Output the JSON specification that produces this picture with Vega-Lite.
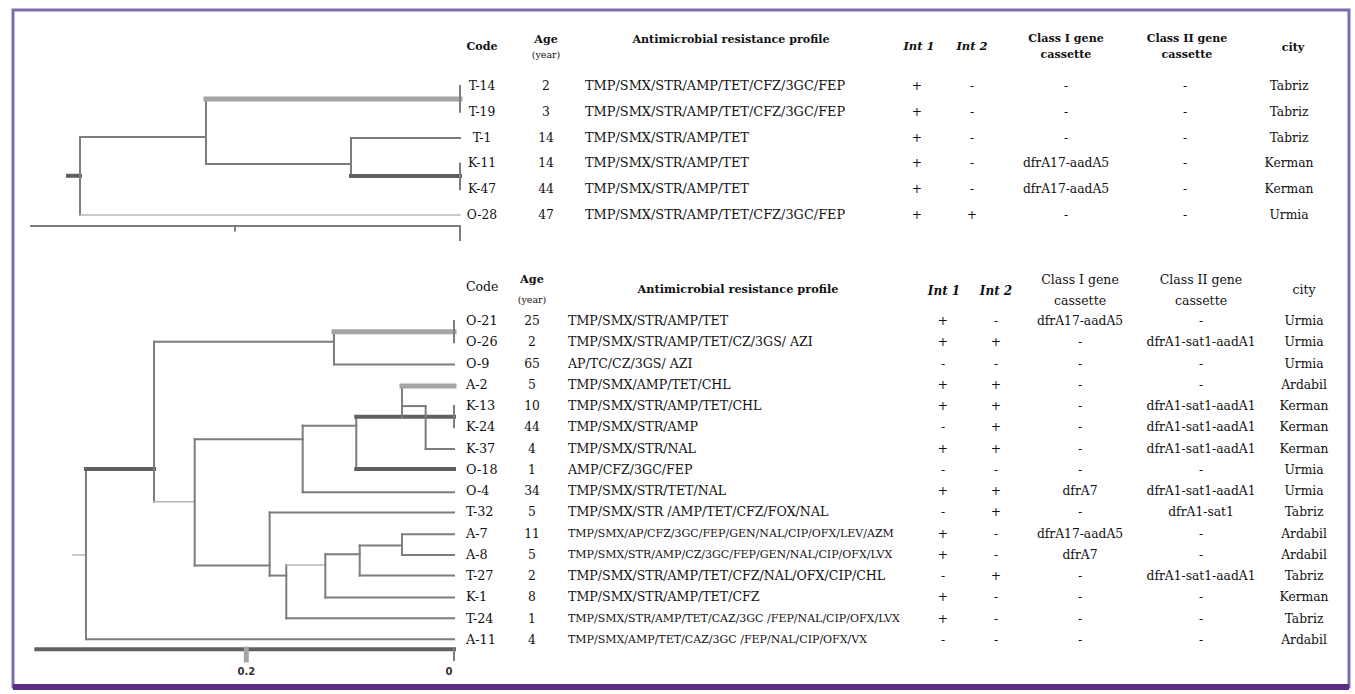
{
  "$schema": "https://vega.github.io/schema/vega-lite/v6.json",
  "width": 1355,
  "height": 694,
  "autosize": {"type": "fit", "contains": "padding"},
  "padding": {"left": 10, "top": 10, "right": 3, "bottom": 4},
  "background": "white",
  "config": {"view": {"stroke": "#7f6db0", "strokeWidth": 3}, "text": {"font": "DejaVu Serif"}},
  "datasets": {
    "cols": [
      {"col": "code", "slot": 1}, {"col": "age", "slot": 2}, {"col": "int1", "slot": 4},
      {"col": "int2", "slot": 5}, {"col": "c1", "slot": 6}, {"col": "c2", "slot": 7}, {"col": "city", "slot": 8}
    ],
    "top": [
      {"r": 1, "code": "T-14", "age": 2, "profile": "TMP/SMX/STR/AMP/TET/CFZ/3GC/FEP", "int1": "+", "int2": "-", "c1": "-", "c2": "-", "city": "Tabriz"},
      {"r": 2, "code": "T-19", "age": 3, "profile": "TMP/SMX/STR/AMP/TET/CFZ/3GC/FEP", "int1": "+", "int2": "-", "c1": "-", "c2": "-", "city": "Tabriz"},
      {"r": 3, "code": "T-1", "age": 14, "profile": "TMP/SMX/STR/AMP/TET", "int1": "+", "int2": "-", "c1": "-", "c2": "-", "city": "Tabriz"},
      {"r": 4, "code": "K-11", "age": 14, "profile": "TMP/SMX/STR/AMP/TET", "int1": "+", "int2": "-", "c1": "dfrA17-aadA5", "c2": "-", "city": "Kerman"},
      {"r": 5, "code": "K-47", "age": 44, "profile": "TMP/SMX/STR/AMP/TET", "int1": "+", "int2": "-", "c1": "dfrA17-aadA5", "c2": "-", "city": "Kerman"},
      {"r": 6, "code": "O-28", "age": 47, "profile": "TMP/SMX/STR/AMP/TET/CFZ/3GC/FEP", "int1": "+", "int2": "+", "c1": "-", "c2": "-", "city": "Urmia"}
    ],
    "bottom": [
      {"r": 1, "code": "O-21", "age": 25, "profile": "TMP/SMX/STR/AMP/TET", "int1": "+", "int2": "-", "c1": "dfrA17-aadA5", "c2": "-", "city": "Urmia"},
      {"r": 2, "code": "O-26", "age": 2, "profile": "TMP/SMX/STR/AMP/TET/CZ/3GS/ AZI", "int1": "+", "int2": "+", "c1": "-", "c2": "dfrA1-sat1-aadA1", "city": "Urmia"},
      {"r": 3, "code": "O-9", "age": 65, "profile": "AP/TC/CZ/3GS/ AZI", "int1": "-", "int2": "-", "c1": "-", "c2": "-", "city": "Urmia"},
      {"r": 4, "code": "A-2", "age": 5, "profile": "TMP/SMX/AMP/TET/CHL", "int1": "+", "int2": "+", "c1": "-", "c2": "-", "city": "Ardabil"},
      {"r": 5, "code": "K-13", "age": 10, "profile": "TMP/SMX/STR/AMP/TET/CHL", "int1": "+", "int2": "+", "c1": "-", "c2": "dfrA1-sat1-aadA1", "city": "Kerman"},
      {"r": 6, "code": "K-24", "age": 44, "profile": "TMP/SMX/STR/AMP", "int1": "-", "int2": "+", "c1": "-", "c2": "dfrA1-sat1-aadA1", "city": "Kerman"},
      {"r": 7, "code": "K-37", "age": 4, "profile": "TMP/SMX/STR/NAL", "int1": "+", "int2": "+", "c1": "-", "c2": "dfrA1-sat1-aadA1", "city": "Kerman"},
      {"r": 8, "code": "O-18", "age": 1, "profile": "AMP/CFZ/3GC/FEP", "int1": "-", "int2": "-", "c1": "-", "c2": "-", "city": "Urmia"},
      {"r": 9, "code": "O-4", "age": 34, "profile": "TMP/SMX/STR/TET/NAL", "int1": "+", "int2": "+", "c1": "dfrA7", "c2": "dfrA1-sat1-aadA1", "city": "Urmia"},
      {"r": 10, "code": "T-32", "age": 5, "profile": "TMP/SMX/STR /AMP/TET/CFZ/FOX/NAL", "int1": "-", "int2": "+", "c1": "-", "c2": "dfrA1-sat1", "city": "Tabriz"},
      {"r": 11, "code": "A-7", "age": 11, "profile": "TMP/SMX/AP/CFZ/3GC/FEP/GEN/NAL/CIP/OFX/LEV/AZM", "int1": "+", "int2": "-", "c1": "dfrA17-aadA5", "c2": "-", "city": "Ardabil"},
      {"r": 12, "code": "A-8", "age": 5, "profile": "TMP/SMX/STR/AMP/CZ/3GC/FEP/GEN/NAL/CIP/OFX/LVX", "int1": "+", "int2": "-", "c1": "dfrA7", "c2": "-", "city": "Ardabil"},
      {"r": 13, "code": "T-27", "age": 2, "profile": "TMP/SMX/STR/AMP/TET/CFZ/NAL/OFX/CIP/CHL", "int1": "-", "int2": "+", "c1": "-", "c2": "dfrA1-sat1-aadA1", "city": "Tabriz"},
      {"r": 14, "code": "K-1", "age": 8, "profile": "TMP/SMX/STR/AMP/TET/CFZ", "int1": "+", "int2": "-", "c1": "-", "c2": "-", "city": "Kerman"},
      {"r": 15, "code": "T-24", "age": 1, "profile": "TMP/SMX/STR/AMP/TET/CAZ/3GC /FEP/NAL/CIP/OFX/LVX", "int1": "+", "int2": "-", "c1": "-", "c2": "-", "city": "Tabriz"},
      {"r": 16, "code": "A-11", "age": 4, "profile": "TMP/SMX/AMP/TET/CAZ/3GC /FEP/NAL/CIP/OFX/VX", "int1": "-", "int2": "-", "c1": "-", "c2": "-", "city": "Ardabil"}
    ],
    "topTree": [
      {"d": 0.3484, "d2": 0.3378, "r": 4.48, "r2": 4.48, "kind": "heavy"},
      {"d": 0.3378, "d2": 0.3378, "r": 2.98, "r2": 6.0, "kind": "branch"},
      {"d": 0.3378, "d2": 0.2258, "r": 2.98, "r2": 2.98, "kind": "branch"},
      {"d": 0.3378, "d2": 0, "r": 6.0, "r2": 6.0, "kind": "light"},
      {"d": 0.2258, "d2": 0.2258, "r": 1.5, "r2": 4.02, "kind": "branch"},
      {"d": 0.2258, "d2": 0, "r": 1.5, "r2": 1.5, "kind": "tied"},
      {"d": 0, "d2": 0, "r": 1.0, "r2": 2.0, "kind": "branch"},
      {"d": 0.2258, "d2": 0.0969, "r": 4.02, "r2": 4.02, "kind": "branch"},
      {"d": 0.0969, "d2": 0.0969, "r": 3.02, "r2": 4.49, "kind": "branch"},
      {"d": 0.0969, "d2": 0, "r": 3.02, "r2": 3.02, "kind": "branch"},
      {"d": 0.0969, "d2": 0, "r": 4.49, "r2": 4.49, "kind": "heavy"},
      {"d": 0, "d2": 0, "r": 4.0, "r2": 5.0, "kind": "branch"},
      {"d": 0.3813, "d2": 0, "r": 6.43, "r2": 6.43, "kind": "branch"},
      {"d": 0.2, "d2": 0.2, "r": 6.43, "r2": 6.6, "kind": "branch"},
      {"d": 0, "d2": 0, "r": 6.43, "r2": 6.97, "kind": "branch"}
    ],
    "bottomTree": [
      {"d": 0.3669, "d2": 0.3544, "r": 12.0, "r2": 12.0, "kind": "light"},
      {"d": 0.3544, "d2": 0.3544, "r": 7.96, "r2": 15.96, "kind": "branch"},
      {"d": 0.3544, "d2": 0, "r": 15.96, "r2": 15.96, "kind": "branch"},
      {"d": 0.3544, "d2": 0.2889, "r": 7.96, "r2": 7.96, "kind": "heavy"},
      {"d": 0.2889, "d2": 0.2889, "r": 1.97, "r2": 9.5, "kind": "branch"},
      {"d": 0.2889, "d2": 0.1156, "r": 1.97, "r2": 1.97, "kind": "branch"},
      {"d": 0.1156, "d2": 0.1156, "r": 1.5, "r2": 3.04, "kind": "branch"},
      {"d": 0.1156, "d2": 0, "r": 1.5, "r2": 1.5, "kind": "tied"},
      {"d": 0, "d2": 0, "r": 1.0, "r2": 2.0, "kind": "branch"},
      {"d": 0.1156, "d2": 0, "r": 3.04, "r2": 3.04, "kind": "branch"},
      {"d": 0.2889, "d2": 0.2497, "r": 9.5, "r2": 9.5, "kind": "light"},
      {"d": 0.2497, "d2": 0.2497, "r": 6.56, "r2": 12.5, "kind": "branch"},
      {"d": 0.2497, "d2": 0.1457, "r": 6.56, "r2": 6.56, "kind": "branch"},
      {"d": 0.1457, "d2": 0.1457, "r": 5.92, "r2": 9.05, "kind": "branch"},
      {"d": 0.1457, "d2": 0.0941, "r": 5.92, "r2": 5.92, "kind": "branch"},
      {"d": 0.0941, "d2": 0.0941, "r": 5.5, "r2": 7.96, "kind": "branch"},
      {"d": 0.0941, "d2": 0, "r": 5.5, "r2": 5.5, "kind": "heavy"},
      {"d": 0, "d2": 0, "r": 5.0, "r2": 6.0, "kind": "branch"},
      {"d": 0.0941, "d2": 0, "r": 7.96, "r2": 7.96, "kind": "heavy"},
      {"d": 0.0501, "d2": 0.0501, "r": 4.06, "r2": 5.5, "kind": "branch"},
      {"d": 0.0501, "d2": 0, "r": 4.06, "r2": 4.06, "kind": "tied"},
      {"d": 0.0501, "d2": 0.0273, "r": 5.0, "r2": 5.0, "kind": "branch"},
      {"d": 0.0273, "d2": 0.0273, "r": 5.0, "r2": 7.02, "kind": "branch"},
      {"d": 0.0273, "d2": 0, "r": 7.02, "r2": 7.02, "kind": "branch"},
      {"d": 0.1457, "d2": 0, "r": 9.05, "r2": 9.05, "kind": "branch"},
      {"d": 0.2497, "d2": 0.1775, "r": 12.5, "r2": 12.5, "kind": "branch"},
      {"d": 0.1775, "d2": 0.1775, "r": 10.0, "r2": 12.97, "kind": "branch"},
      {"d": 0.1775, "d2": 0, "r": 10.0, "r2": 10.0, "kind": "branch"},
      {"d": 0.1775, "d2": 0.1615, "r": 12.97, "r2": 12.97, "kind": "branch"},
      {"d": 0.1615, "d2": 0.1615, "r": 12.47, "r2": 14.98, "kind": "branch"},
      {"d": 0.1615, "d2": 0.1239, "r": 12.47, "r2": 12.47, "kind": "light"},
      {"d": 0.1615, "d2": 0, "r": 14.98, "r2": 14.98, "kind": "branch"},
      {"d": 0.1239, "d2": 0.1239, "r": 11.97, "r2": 14.0, "kind": "branch"},
      {"d": 0.1239, "d2": 0.0908, "r": 11.97, "r2": 11.97, "kind": "branch"},
      {"d": 0.1239, "d2": 0, "r": 14.0, "r2": 14.0, "kind": "branch"},
      {"d": 0.0908, "d2": 0.0908, "r": 11.56, "r2": 12.97, "kind": "branch"},
      {"d": 0.0908, "d2": 0.0501, "r": 11.56, "r2": 11.56, "kind": "branch"},
      {"d": 0.0908, "d2": 0, "r": 12.97, "r2": 12.97, "kind": "branch"},
      {"d": 0.0501, "d2": 0.0501, "r": 11.03, "r2": 12.0, "kind": "branch"},
      {"d": 0.0501, "d2": 0, "r": 11.03, "r2": 11.03, "kind": "branch"},
      {"d": 0.0501, "d2": 0, "r": 12.0, "r2": 12.0, "kind": "branch"},
      {"d": 0.4022, "d2": 0, "r": 16.43, "r2": 16.43, "kind": "heavy"},
      {"d": 0.2, "d2": 0.2, "r": 16.43, "r2": 16.94, "kind": "tied"},
      {"d": 0, "d2": 0, "r": 16.43, "r2": 16.94, "kind": "branch"}
    ]
  },
  "layer": [
    {
      "data": {"name": "topTree"},
      "mark": {"type": "rule", "strokeCap": "square"},
      "encoding": {
        "x": {"field": "d", "type": "quantitative", "scale": {"domain": [0, 0.2], "range": [447, 222], "zero": false, "nice": false}, "axis": null},
        "x2": {"field": "d2"},
        "y": {"field": "r", "type": "quantitative", "scale": {"domain": [1, 6], "range": [76, 205], "zero": false, "nice": false}, "axis": null},
        "y2": {"field": "r2"},
        "color": {"field": "kind", "type": "nominal", "scale": {"domain": ["branch", "tied", "heavy", "light"], "range": ["#7d7d7d", "#a5a5a5", "#606060", "#b8b8b8"]}, "legend": null},
        "strokeWidth": {"field": "kind", "type": "nominal", "scale": {"type": "ordinal", "domain": ["branch", "tied", "heavy", "light"], "range": [2, 5, 4, 1.5]}, "legend": null}
      }
    },
    {
      "data": {"name": "bottomTree"},
      "mark": {"type": "rule", "strokeCap": "square"},
      "encoding": {
        "x": {"field": "d", "type": "quantitative", "scale": {"domain": [0, 0.2], "range": [441, 233.3], "zero": false, "nice": false}, "axis": null},
        "x2": {"field": "d2"},
        "y": {"field": "r", "type": "quantitative", "scale": {"domain": [1, 16], "range": [311, 630], "zero": false, "nice": false}, "axis": null},
        "y2": {"field": "r2"},
        "color": {"field": "kind", "type": "nominal", "scale": {"domain": ["branch", "tied", "heavy", "light"], "range": ["#7d7d7d", "#a5a5a5", "#606060", "#b8b8b8"]}, "legend": null},
        "strokeWidth": {"field": "kind", "type": "nominal", "scale": {"type": "ordinal", "domain": ["branch", "tied", "heavy", "light"], "range": [2, 5, 4, 1.5]}, "legend": null}
      }
    },
    {
      "data": {"values": [{"label": "0.2", "d": 0.2, "r": 17.5}, {"label": "0", "d": 0.0048, "r": 17.5}]},
      "mark": {"type": "text", "font": "DejaVu Sans", "fontSize": 10, "fontWeight": "bold", "align": "center", "baseline": "middle", "color": "#333"},
      "encoding": {
        "x": {"field": "d", "type": "quantitative", "scale": {"domain": [0, 0.2], "range": [441, 233.3], "zero": false, "nice": false}, "axis": null},
        "y": {"field": "r", "type": "quantitative", "scale": {"domain": [1, 16], "range": [311, 630], "zero": false, "nice": false}, "axis": null},
        "text": {"field": "label"}
      }
    },
    {
      "data": {"name": "top"},
      "transform": [
        {"fold": ["code", "age", "int1", "int2", "c1", "c2", "city"], "as": ["col", "val"]},
        {"lookup": "col", "from": {"data": {"name": "cols"}, "key": "col", "fields": ["slot"]}}
      ],
      "mark": {"type": "text", "fontSize": 12.3, "align": "center", "baseline": "middle", "color": "#111"},
      "encoding": {
        "x": {"field": "slot", "type": "quantitative", "scale": {"domain": [1, 2, 3, 4, 5, 6, 7, 8], "range": [469, 533, 718, 904, 959, 1053, 1172, 1276], "zero": false, "nice": false}, "axis": null},
        "y": {"field": "r", "type": "quantitative", "scale": {"domain": [1, 6], "range": [76, 205], "zero": false, "nice": false}, "axis": null},
        "text": {"field": "val"}
      }
    },
    {
      "data": {"name": "top"},
      "mark": {"type": "text", "fontSize": 12.9, "align": "left", "baseline": "middle", "dx": -146, "color": "#111"},
      "encoding": {
        "x": {"datum": 3, "type": "quantitative", "scale": {"domain": [1, 2, 3, 4, 5, 6, 7, 8], "range": [469, 533, 718, 904, 959, 1053, 1172, 1276], "zero": false, "nice": false}, "axis": null},
        "y": {"field": "r", "type": "quantitative", "scale": {"domain": [1, 6], "range": [76, 205], "zero": false, "nice": false}, "axis": null},
        "text": {"field": "profile"}
      }
    },
    {
      "data": {"values": [
        {"label": "Code", "col": 1, "r": -0.52},
        {"label": "Age", "col": 2, "r": -0.78},
        {"label": "Antimicrobial resistance profile", "col": 3, "r": -0.78},
        {"label": "Class I gene", "col": 6, "r": -0.81},
        {"label": "cassette", "col": 6, "r": -0.2},
        {"label": "Class II gene", "col": 7, "r": -0.81},
        {"label": "cassette", "col": 7, "r": -0.2},
        {"label": "city", "col": 8, "r": -0.47}
      ]},
      "mark": {"type": "text", "fontSize": 11.1, "fontWeight": "bold", "align": "center", "baseline": "middle", "color": "#111"},
      "encoding": {
        "x": {"field": "col", "type": "quantitative", "scale": {"domain": [1, 2, 3, 4, 5, 6, 7, 8], "range": [469, 533, 718, 906, 959, 1053, 1174, 1280], "zero": false, "nice": false}, "axis": null},
        "y": {"field": "r", "type": "quantitative", "scale": {"domain": [1, 6], "range": [76, 205], "zero": false, "nice": false}, "axis": null},
        "text": {"field": "label"}
      }
    },
    {
      "data": {"values": [{"label": "(year)", "col": 2, "r": -0.2}]},
      "mark": {"type": "text", "fontSize": 9.5, "align": "center", "baseline": "middle", "color": "#111"},
      "encoding": {
        "x": {"field": "col", "type": "quantitative", "scale": {"domain": [1, 2, 3, 4, 5, 6, 7, 8], "range": [469, 533, 718, 906, 959, 1053, 1174, 1280], "zero": false, "nice": false}, "axis": null},
        "y": {"field": "r", "type": "quantitative", "scale": {"domain": [1, 6], "range": [76, 205], "zero": false, "nice": false}, "axis": null},
        "text": {"field": "label"}
      }
    },
    {
      "data": {"values": [{"label": "Int 1", "col": 4, "r": -0.5}, {"label": "Int 2", "col": 5, "r": -0.5}]},
      "mark": {"type": "text", "fontSize": 11.5, "fontWeight": "bold", "fontStyle": "italic", "align": "center", "baseline": "middle", "color": "#111"},
      "encoding": {
        "x": {"field": "col", "type": "quantitative", "scale": {"domain": [1, 2, 3, 4, 5, 6, 7, 8], "range": [469, 533, 718, 906, 959, 1053, 1174, 1280], "zero": false, "nice": false}, "axis": null},
        "y": {"field": "r", "type": "quantitative", "scale": {"domain": [1, 6], "range": [76, 205], "zero": false, "nice": false}, "axis": null},
        "text": {"field": "label"}
      }
    },
    {
      "data": {"name": "bottom"},
      "transform": [
        {"fold": ["age", "int1", "int2", "c1", "c2", "city"], "as": ["col", "val"]},
        {"lookup": "col", "from": {"data": {"name": "cols"}, "key": "col", "fields": ["slot"]}}
      ],
      "mark": {"type": "text", "fontSize": 12.3, "align": "center", "baseline": "middle", "color": "#111"},
      "encoding": {
        "x": {"field": "slot", "type": "quantitative", "scale": {"domain": [1, 2, 3, 4, 5, 6, 7, 8], "range": [453, 519, 725, 930, 983, 1067, 1188, 1291], "zero": false, "nice": false}, "axis": null},
        "y": {"field": "r", "type": "quantitative", "scale": {"domain": [1, 16], "range": [311, 630], "zero": false, "nice": false}, "axis": null},
        "text": {"field": "val"}
      }
    },
    {
      "data": {"name": "bottom"},
      "mark": {"type": "text", "fontSize": 12.8, "align": "left", "baseline": "middle", "color": "#111"},
      "encoding": {
        "x": {"datum": 1, "type": "quantitative", "scale": {"domain": [1, 2, 3, 4, 5, 6, 7, 8], "range": [453, 519, 725, 930, 983, 1067, 1188, 1291], "zero": false, "nice": false}, "axis": null},
        "y": {"field": "r", "type": "quantitative", "scale": {"domain": [1, 16], "range": [311, 630], "zero": false, "nice": false}, "axis": null},
        "text": {"field": "code"}
      }
    },
    {
      "data": {"name": "bottom"},
      "transform": [{"filter": "length(datum.profile) <= 42"}],
      "mark": {"type": "text", "fontSize": 12.6, "align": "left", "baseline": "middle", "dx": -170, "color": "#111"},
      "encoding": {
        "x": {"datum": 3, "type": "quantitative", "scale": {"domain": [1, 2, 3, 4, 5, 6, 7, 8], "range": [453, 519, 725, 930, 983, 1067, 1188, 1291], "zero": false, "nice": false}, "axis": null},
        "y": {"field": "r", "type": "quantitative", "scale": {"domain": [1, 16], "range": [311, 630], "zero": false, "nice": false}, "axis": null},
        "text": {"field": "profile"}
      }
    },
    {
      "data": {"name": "bottom"},
      "transform": [{"filter": "length(datum.profile) > 42"}],
      "mark": {"type": "text", "fontSize": 11, "align": "left", "baseline": "middle", "dx": -170, "color": "#111"},
      "encoding": {
        "x": {"datum": 3, "type": "quantitative", "scale": {"domain": [1, 2, 3, 4, 5, 6, 7, 8], "range": [453, 519, 725, 930, 983, 1067, 1188, 1291], "zero": false, "nice": false}, "axis": null},
        "y": {"field": "r", "type": "quantitative", "scale": {"domain": [1, 16], "range": [311, 630], "zero": false, "nice": false}, "axis": null},
        "text": {"field": "profile"}
      }
    },
    {
      "data": {"values": [{"label": "Code", "col": 1, "r": -0.61}]},
      "mark": {"type": "text", "fontSize": 12.5, "align": "left", "baseline": "middle", "color": "#111"},
      "encoding": {
        "x": {"field": "col", "type": "quantitative", "scale": {"domain": [1, 2, 3, 4, 5, 6, 7, 8], "range": [453, 519, 725, 930, 983, 1067, 1188, 1291], "zero": false, "nice": false}, "axis": null},
        "y": {"field": "r", "type": "quantitative", "scale": {"domain": [1, 16], "range": [311, 630], "zero": false, "nice": false}, "axis": null},
        "text": {"field": "label"}
      }
    },
    {
      "data": {"values": [
        {"label": "Age", "col": 2, "r": -0.93},
        {"label": "Antimicrobial resistance profile", "col": 3, "r": -0.46}
      ]},
      "mark": {"type": "text", "fontSize": 11.3, "fontWeight": "bold", "align": "center", "baseline": "middle", "color": "#111"},
      "encoding": {
        "x": {"field": "col", "type": "quantitative", "scale": {"domain": [1, 2, 3, 4, 5, 6, 7, 8], "range": [453, 519, 725, 930, 983, 1067, 1188, 1291], "zero": false, "nice": false}, "axis": null},
        "y": {"field": "r", "type": "quantitative", "scale": {"domain": [1, 16], "range": [311, 630], "zero": false, "nice": false}, "axis": null},
        "text": {"field": "label"}
      }
    },
    {
      "data": {"values": [
        {"label": "Class I gene", "col": 6, "r": -0.93},
        {"label": "cassette", "col": 6, "r": 0.05},
        {"label": "Class II gene", "col": 7, "r": -0.93},
        {"label": "cassette", "col": 7, "r": 0.05},
        {"label": "city", "col": 8, "r": -0.46}
      ]},
      "mark": {"type": "text", "fontSize": 12.5, "align": "center", "baseline": "middle", "color": "#111"},
      "encoding": {
        "x": {"field": "col", "type": "quantitative", "scale": {"domain": [1, 2, 3, 4, 5, 6, 7, 8], "range": [453, 519, 725, 930, 983, 1067, 1188, 1291], "zero": false, "nice": false}, "axis": null},
        "y": {"field": "r", "type": "quantitative", "scale": {"domain": [1, 16], "range": [311, 630], "zero": false, "nice": false}, "axis": null},
        "text": {"field": "label"}
      }
    },
    {
      "data": {"values": [{"label": "(year)", "col": 2, "r": 0.01}]},
      "mark": {"type": "text", "fontSize": 9.5, "align": "center", "baseline": "middle", "color": "#111"},
      "encoding": {
        "x": {"field": "col", "type": "quantitative", "scale": {"domain": [1, 2, 3, 4, 5, 6, 7, 8], "range": [453, 519, 725, 930, 983, 1067, 1188, 1291], "zero": false, "nice": false}, "axis": null},
        "y": {"field": "r", "type": "quantitative", "scale": {"domain": [1, 16], "range": [311, 630], "zero": false, "nice": false}, "axis": null},
        "text": {"field": "label"}
      }
    },
    {
      "data": {"values": [{"label": "Int 1", "col": 4, "r": -0.42}, {"label": "Int 2", "col": 5, "r": -0.42}]},
      "mark": {"type": "text", "fontSize": 12, "fontWeight": "bold", "fontStyle": "italic", "align": "center", "baseline": "middle", "color": "#111"},
      "encoding": {
        "x": {"field": "col", "type": "quantitative", "scale": {"domain": [1, 2, 3, 4, 5, 6, 7, 8], "range": [453, 519, 725, 931, 983, 1067, 1188, 1291], "zero": false, "nice": false}, "axis": null},
        "y": {"field": "r", "type": "quantitative", "scale": {"domain": [1, 16], "range": [311, 630], "zero": false, "nice": false}, "axis": null},
        "text": {"field": "label"}
      }
    },
    {
      "data": {"values": [{}]},
      "mark": {"type": "rule", "color": "#5b2d84", "strokeWidth": 6},
      "encoding": {"x": {"value": 0}, "x2": {"value": "width"}, "y": {"value": "height"}}
    }
  ],
  "resolve": {"scale": {"x": "independent", "y": "independent"}}
}
